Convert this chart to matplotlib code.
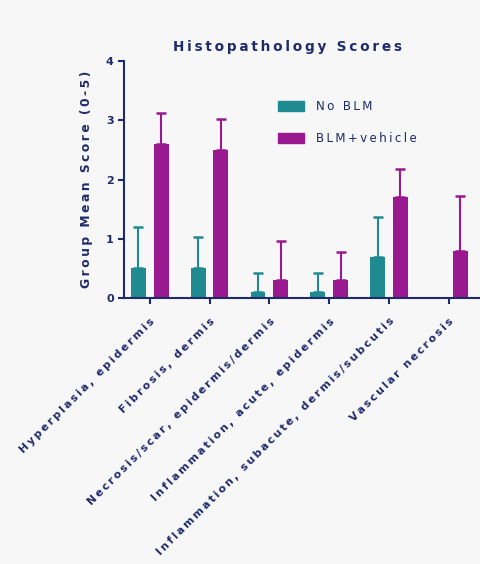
import numpy as np
import matplotlib.pyplot as plt
from matplotlib.patches import Patch

categories = ["Hyperplasia, epidermis", "Fibrosis, dermis", "Necrosis/scar, epidermis/dermis",
              "Inflammation, acute, epidermis", "Inflammation, subacute, dermis/subcutis",
              "Vascular necrosis"]
no_blm = [0.5, 0.5, 0.1, 0.1, 0.7, 0.0]
no_blm_err = [0.7, 0.53, 0.32, 0.32, 0.67, 0.0]
blm_vehicle = [2.6, 2.5, 0.3, 0.3, 1.7, 0.8]
blm_vehicle_err = [0.52, 0.52, 0.67, 0.48, 0.48, 0.92]
series_names = ["No BLM", "BLM+vehicle"]

teal = "#1f8b90"
magenta = "#9b1990"
navy = "#1f2a6b"


def spaced(s):
    # mimic the wide letter spacing of the original
    return "\u2009".join(s)


fig = plt.figure(figsize=(4.81, 5.64), dpi=100, facecolor="#f7f7f7")
ax = fig.add_axes([0.258, 0.4716, 0.742, 0.4202])
ax.set_facecolor("#f7f7f7")

x = np.arange(len(categories))
w = 0.25
off = 0.19

for i in range(len(x)):
    if no_blm[i] > 0:
        ax.bar(x[i] - off, no_blm[i], w, color=teal, zorder=2)
        ax.errorbar(x[i] - off, no_blm[i], yerr=[[0], [no_blm_err[i]]], fmt="none",
                    ecolor=teal, elinewidth=1.5, capsize=3.5, capthick=1.8, zorder=1)
    ax.bar(x[i] + off, blm_vehicle[i], w, color=magenta, zorder=2)
    ax.errorbar(x[i] + off, blm_vehicle[i], yerr=[[0], [blm_vehicle_err[i]]], fmt="none",
                ecolor=magenta, elinewidth=1.5, capsize=3.5, capthick=1.8, zorder=1)

ax.set_xlim(-0.43, 5.54)
ax.set_ylim(0, 4)
ax.set_yticks([0, 1, 2, 3, 4])
ax.set_yticklabels([str(v) for v in range(5)], fontsize=8, fontweight="bold", color=navy)
ax.set_xticks(x)
ax.set_xticklabels([spaced(c) for c in categories], rotation=45, ha="right",
                   rotation_mode="anchor", fontsize=7.8, fontweight="bold", color=navy)

for s in ["top", "right"]:
    ax.spines[s].set_visible(False)
for s in ["left", "bottom"]:
    ax.spines[s].set_color(navy)
    ax.spines[s].set_linewidth(1.5)
ax.tick_params(colors=navy, width=1.5, length=4)
ax.tick_params(axis="x", pad=9)

ax.set_ylabel(spaced("Group Mean Score (0-5)"), fontsize=8.8, fontweight="bold", color=navy,
              labelpad=9)
fig.text(0.597, 0.916, spaced("Histopathology Scores"), ha="center", va="center",
         fontsize=9.8, fontweight="bold", color=navy)

handles = [Patch(color=teal), Patch(color=magenta)]
ax.legend(handles, [spaced(n) for n in series_names], loc="upper left",
          bbox_to_anchor=(0.4, 0.88), frameon=False, fontsize=8.6,
          labelcolor=navy, handlelength=2.2, handleheight=0.9, labelspacing=1.6,
          handletextpad=1.0)

plt.savefig("out.png", dpi=100, facecolor=fig.get_facecolor())
